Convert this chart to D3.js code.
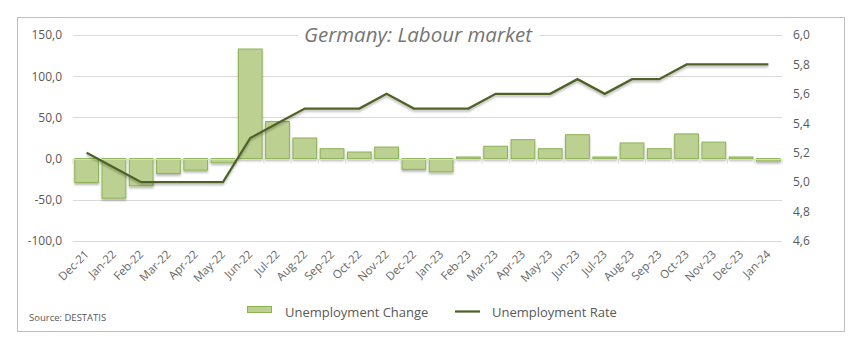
<!DOCTYPE html>
<html>
<head>
<meta charset="utf-8">
<script src="https://cdn.jsdelivr.net/npm/d3@7"></script>
<style>
  body { margin: 0; background: #fff; }
  svg { display: block; }
  svg text { font-family: "Open Sans", "Noto Sans", sans-serif; }
</style>
</head>
<body>
<svg id="chart" width="860" height="350"></svg>
<script>
// Monthly data, Dec-21 .. Jan-24
const months = ["Dec-21","Jan-22","Feb-22","Mar-22","Apr-22","May-22","Jun-22","Jul-22","Aug-22","Sep-22","Oct-22","Nov-22","Dec-22","Jan-23","Feb-23","Mar-23","Apr-23","May-23","Jun-23","Jul-23","Aug-23","Sep-23","Oct-23","Nov-23","Dec-23","Jan-24"];
// Unemployment change (thousands)
const unemploymentChange = [-29,-48,-33,-18,-14,-5,133,45,25,12,8,14,-13,-16,2,15,23,12,29,2,19,12,30,20,2,-3];
// Unemployment rate (%)
const unemploymentRate = [5.2,5.1,5.0,5.0,5.0,5.0,5.3,5.4,5.5,5.5,5.5,5.6,5.5,5.5,5.5,5.6,5.6,5.6,5.7,5.6,5.7,5.7,5.8,5.8,5.8,5.8];
const leftTicks = [150,100,50,0,-50,-100];
const rightTicks = [6.0,5.8,5.6,5.4,5.2,5.0,4.8,4.6];

const svg = d3.select("#chart");
const fmt = v => d3.format(".1f")(v).replace(".", ",").replace("\u2212", "-");

const plot = { left: 73, right: 782, top: 35, bottom: 241 };

const x = d3.scaleBand().domain(months).range([plot.left, plot.right]).paddingInner(0.13).paddingOuter(0.065);
const xCenter = d => x(d) + x.bandwidth() / 2;
const yL = d3.scaleLinear().domain([-100, 150]).range([plot.bottom, plot.top]);
const yR = d3.scaleLinear().domain([4.6, 6.0]).range([plot.bottom, plot.top]);

// soft drop shadow used on bars and line
const defs = svg.append("defs");
const sh = defs.append("filter").attr("id", "shadow").attr("x", "-20%").attr("y", "-20%").attr("width", "140%").attr("height", "160%");
sh.append("feDropShadow").attr("dx", 0).attr("dy", 2).attr("stdDeviation", 1.2).attr("flood-color", "#000").attr("flood-opacity", 0.28);

// outer frame
svg.append("rect").attr("x", 17.5).attr("y", 17.5).attr("width", 827).attr("height", 314)
  .attr("fill", "#fff").attr("stroke", "#bfbfbf").attr("stroke-width", 1);

// gridlines
svg.append("g").selectAll("line").data(leftTicks.filter(t => t !== 0)).join("line")
  .attr("x1", plot.left).attr("x2", plot.right)
  .attr("y1", d => Math.round(yL(d)) + 0.5).attr("y2", d => Math.round(yL(d)) + 0.5)
  .attr("stroke", "#d9d9d9").attr("stroke-width", 1);

// left axis
const leftAxis = svg.append("g").attr("transform", `translate(${plot.left},0)`)
  .call(d3.axisLeft(yL).tickValues(leftTicks).tickFormat(fmt).tickSize(0).tickPadding(11));
leftAxis.attr("font-family", null).attr("font-size", null);
leftAxis.select(".domain").remove();
leftAxis.selectAll("text").attr("fill", "#595959").style("font-size", "12px");

// right axis
const rightAxis = svg.append("g").attr("transform", `translate(${plot.right},0)`)
  .call(d3.axisRight(yR).tickValues(rightTicks).tickFormat(fmt).tickSize(0).tickPadding(11));
rightAxis.attr("font-family", null).attr("font-size", null);
rightAxis.select(".domain").remove();
rightAxis.selectAll("text").attr("fill", "#595959").style("font-size", "12px");

// title with a white backing so it sits over the top gridline
const titleG = svg.append("g");
const titleBg = titleG.append("rect").attr("fill", "#fff");
const title = titleG.append("text").attr("x", 418).attr("y", 42).attr("text-anchor", "middle")
  .attr("fill", "#757575").style("font-size", "20.5px").style("font-style", "italic")
  .text("Germany: Labour market");
const tb = title.node().getBBox();
titleBg.attr("x", tb.x - 6).attr("y", tb.y).attr("width", tb.width + 12).attr("height", tb.height);

// bars
svg.append("g").attr("filter", "url(#shadow)").selectAll("rect").data(months).join("rect")
  .attr("x", d => x(d))
  .attr("width", x.bandwidth())
  .attr("y", (d, i) => yL(Math.max(0, unemploymentChange[i])))
  .attr("height", (d, i) => Math.max(1, Math.abs(yL(unemploymentChange[i]) - yL(0))))
  .attr("fill", "#bcd191").attr("stroke", "#8db253").attr("stroke-width", 1);

// category axis along zero
const xAxis = svg.append("g").attr("transform", `translate(0,${Math.round(yL(0)) + 0.5})`);
xAxis.append("line").attr("x1", plot.left).attr("x2", plot.right).attr("stroke", "#d9d9d9");
xAxis.selectAll("line.tick").data(d3.range(months.length + 1)).join("line").attr("class", "tick")
  .attr("x1", i => plot.left + (plot.right - plot.left) * i / months.length)
  .attr("x2", i => plot.left + (plot.right - plot.left) * i / months.length)
  .attr("y1", 0).attr("y2", 4).attr("stroke", "#d9d9d9");

// rotated month labels below the plot
svg.append("g").selectAll("text").data(months).join("text")
  .attr("transform", d => `translate(${xCenter(d) + 3},${plot.bottom + 14}) rotate(-45)`)
  .attr("text-anchor", "end").attr("fill", "#666666").style("font-size", "11.5px")
  .text(d => d);

// rate line
const line = d3.line().x((d, i) => xCenter(months[i])).y(d => yR(d));
svg.append("path").datum(unemploymentRate).attr("d", line)
  .attr("fill", "none").attr("stroke", "#4f6228").attr("stroke-width", 2.25)
  .attr("stroke-linejoin", "miter").attr("filter", "url(#shadow)");

// legend
const lg = svg.append("g");
lg.append("rect").attr("x", 247.5).attr("y", 306.5).attr("width", 24).attr("height", 6)
  .attr("fill", "#bcd191").attr("stroke", "#8db253");
lg.append("text").attr("x", 285).attr("y", 316.5).attr("fill", "#595959").style("font-size", "13px").text("Unemployment Change");
lg.append("line").attr("x1", 455).attr("x2", 480).attr("y1", 311.5).attr("y2", 311.5)
  .attr("stroke", "#4f6228").attr("stroke-width", 2.25);
lg.append("text").attr("x", 492).attr("y", 316.5).attr("fill", "#595959").style("font-size", "13px").text("Unemployment Rate");

// source note
svg.append("text").attr("x", 29).attr("y", 321).attr("fill", "#595959").style("font-size", "9.5px").text("Source: DESTATIS");
</script>
</body>
</html>
